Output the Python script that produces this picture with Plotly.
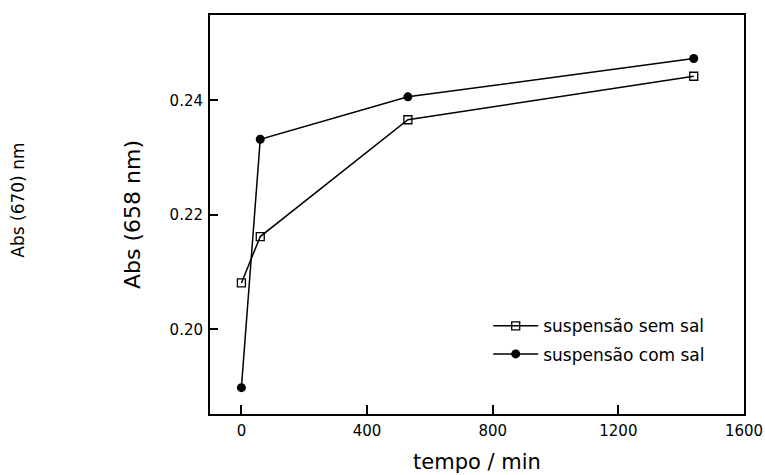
import plotly.graph_objects as go

# data
tempo = [0, 60, 530, 1440]
sem_sal = [0.2081, 0.2162, 0.2366, 0.2442]
com_sal = [0.1898, 0.2332, 0.2406, 0.2473]
x_ticks = [0, 400, 800, 1200, 1600]
y_ticks = [0.20, 0.22, 0.24]
y_ticklabels = ["0.20", "0.22", "0.24"]

FONT = "DejaVu Sans"

fig = go.Figure()
fig.add_trace(go.Scatter(
    x=tempo, y=sem_sal, mode="lines+markers", name="suspensão sem sal",
    legendgroup="a",
    line=dict(color="black", width=1.5),
    marker=dict(symbol="square-open", size=8, color="black", line=dict(width=1.3)),
))
fig.add_trace(go.Scatter(
    x=tempo, y=com_sal, mode="lines+markers", name="suspensão com sal",
    legendgroup="b",
    line=dict(color="black", width=1.5),
    marker=dict(symbol="circle", size=9, color="black"),
))

fig.update_layout(
    width=765, height=475,
    margin=dict(l=210, r=21, t=15, b=61, autoexpand=False),
    paper_bgcolor="white", plot_bgcolor="white",
    font=dict(family=FONT, color="black"),
    showlegend=True,
    legend=dict(
        x=0.521, y=0.265, xanchor="left", yanchor="top",
        bgcolor="rgba(0,0,0,0)", font=dict(size=17, family=FONT),
        traceorder="grouped", tracegroupgap=3, itemwidth=45,
    ),
    xaxis=dict(
        range=[-100, 1600], tickvals=x_ticks, ticktext=[str(v) for v in x_ticks],
        ticks="inside", ticklen=9, tickwidth=1.5, tickcolor="black",
        showline=True, linecolor="black", linewidth=2, mirror=True,
        showgrid=False, zeroline=False, automargin=False,
        tickfont=dict(size=15), ticklabelstandoff=2,
        title=dict(text="tempo / min", font=dict(size=21), standoff=15),
    ),
    yaxis=dict(
        range=[0.1852, 0.2549], tickvals=y_ticks, ticktext=y_ticklabels,
        ticks="inside", ticklen=8, tickwidth=1.5, tickcolor="black",
        showline=True, linecolor="black", linewidth=2, mirror=True,
        showgrid=False, zeroline=False, automargin=False,
        tickfont=dict(size=15), ticklabelstandoff=2,
        title=dict(text="Abs (658 nm)", font=dict(size=22), standoff=23),
    ),
    annotations=[dict(
        text="Abs (670) nm", textangle=-90, xref="paper", yref="paper",
        x=-0.3586, y=0.536, xanchor="center", yanchor="middle",
        showarrow=False, font=dict(size=17, family=FONT),
    )],
)

fig.write_html(
    "out.html",
    config={"displayModeBar": False},
    post_script="document.body.style.margin='0';",
)
